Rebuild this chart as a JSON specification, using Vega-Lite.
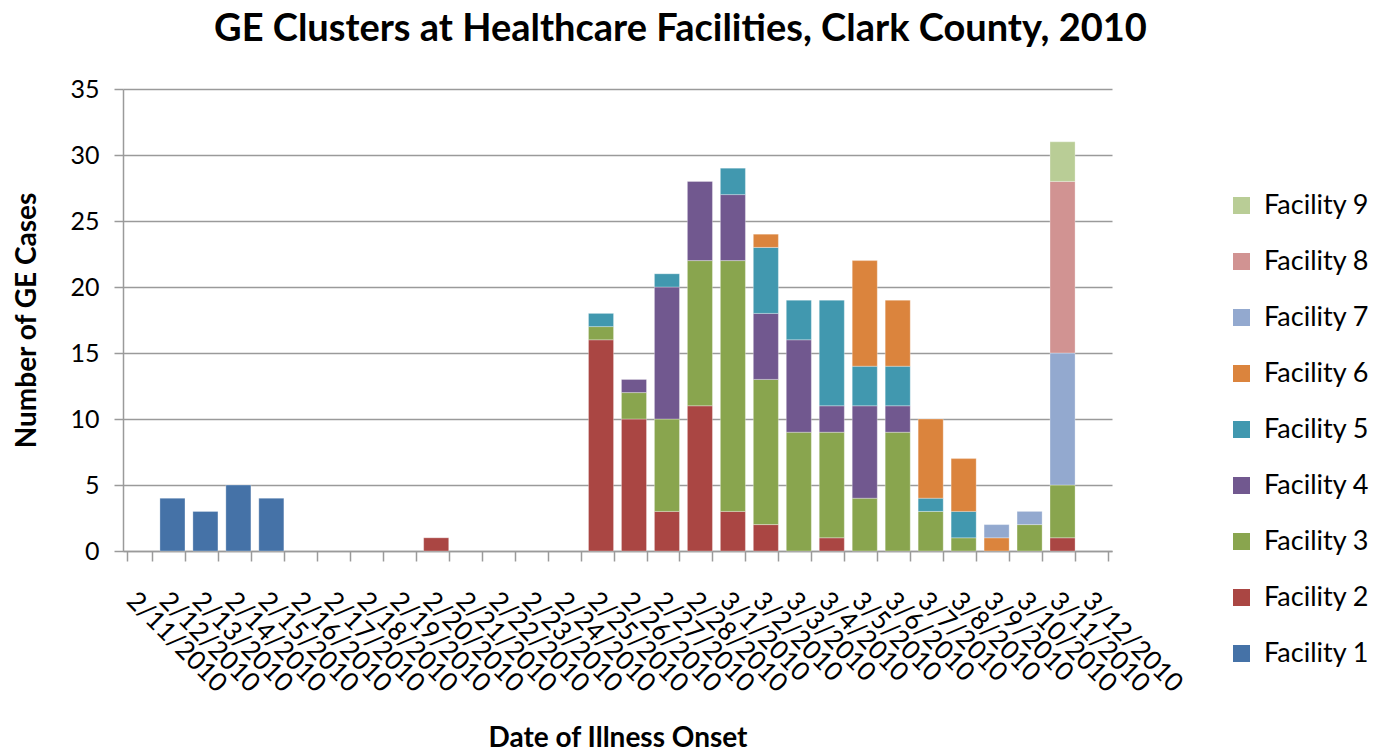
{
  "$schema": "https://vega.github.io/schema/vega-lite/v6.json",
  "width": 989,
  "height": 462,
  "autosize": {"type": "none"},
  "padding": {"left": 123, "top": 89, "right": 272, "bottom": 202},
  "background": "white",
  "config": {"font": "Lato", "view": {"stroke": null}},
  "title": {
    "text": "GE Clusters at Healthcare Facilities, Clark County, 2010",
    "fontSize": 38, "fontWeight": "bold", "font": "Lato", "color": "#000000",
    "anchor": "middle", "dx": 63, "offset": 28
  },
  "data": {"values": [
    {"date": "2/12/2010", "facility": "Facility 1", "n": 1, "cases": 4},
    {"date": "2/13/2010", "facility": "Facility 1", "n": 1, "cases": 3},
    {"date": "2/14/2010", "facility": "Facility 1", "n": 1, "cases": 5},
    {"date": "2/15/2010", "facility": "Facility 1", "n": 1, "cases": 4},
    {"date": "2/20/2010", "facility": "Facility 2", "n": 2, "cases": 1},
    {"date": "2/25/2010", "facility": "Facility 2", "n": 2, "cases": 16},
    {"date": "2/26/2010", "facility": "Facility 2", "n": 2, "cases": 10},
    {"date": "2/27/2010", "facility": "Facility 2", "n": 2, "cases": 3},
    {"date": "2/28/2010", "facility": "Facility 2", "n": 2, "cases": 11},
    {"date": "3/1/2010", "facility": "Facility 2", "n": 2, "cases": 3},
    {"date": "3/2/2010", "facility": "Facility 2", "n": 2, "cases": 2},
    {"date": "3/4/2010", "facility": "Facility 2", "n": 2, "cases": 1},
    {"date": "3/11/2010", "facility": "Facility 2", "n": 2, "cases": 1},
    {"date": "2/25/2010", "facility": "Facility 3", "n": 3, "cases": 1},
    {"date": "2/26/2010", "facility": "Facility 3", "n": 3, "cases": 2},
    {"date": "2/27/2010", "facility": "Facility 3", "n": 3, "cases": 7},
    {"date": "2/28/2010", "facility": "Facility 3", "n": 3, "cases": 11},
    {"date": "3/1/2010", "facility": "Facility 3", "n": 3, "cases": 19},
    {"date": "3/2/2010", "facility": "Facility 3", "n": 3, "cases": 11},
    {"date": "3/3/2010", "facility": "Facility 3", "n": 3, "cases": 9},
    {"date": "3/4/2010", "facility": "Facility 3", "n": 3, "cases": 8},
    {"date": "3/5/2010", "facility": "Facility 3", "n": 3, "cases": 4},
    {"date": "3/6/2010", "facility": "Facility 3", "n": 3, "cases": 9},
    {"date": "3/7/2010", "facility": "Facility 3", "n": 3, "cases": 3},
    {"date": "3/8/2010", "facility": "Facility 3", "n": 3, "cases": 1},
    {"date": "3/10/2010", "facility": "Facility 3", "n": 3, "cases": 2},
    {"date": "3/11/2010", "facility": "Facility 3", "n": 3, "cases": 4},
    {"date": "2/26/2010", "facility": "Facility 4", "n": 4, "cases": 1},
    {"date": "2/27/2010", "facility": "Facility 4", "n": 4, "cases": 10},
    {"date": "2/28/2010", "facility": "Facility 4", "n": 4, "cases": 6},
    {"date": "3/1/2010", "facility": "Facility 4", "n": 4, "cases": 5},
    {"date": "3/2/2010", "facility": "Facility 4", "n": 4, "cases": 5},
    {"date": "3/3/2010", "facility": "Facility 4", "n": 4, "cases": 7},
    {"date": "3/4/2010", "facility": "Facility 4", "n": 4, "cases": 2},
    {"date": "3/5/2010", "facility": "Facility 4", "n": 4, "cases": 7},
    {"date": "3/6/2010", "facility": "Facility 4", "n": 4, "cases": 2},
    {"date": "2/25/2010", "facility": "Facility 5", "n": 5, "cases": 1},
    {"date": "2/27/2010", "facility": "Facility 5", "n": 5, "cases": 1},
    {"date": "3/1/2010", "facility": "Facility 5", "n": 5, "cases": 2},
    {"date": "3/2/2010", "facility": "Facility 5", "n": 5, "cases": 5},
    {"date": "3/3/2010", "facility": "Facility 5", "n": 5, "cases": 3},
    {"date": "3/4/2010", "facility": "Facility 5", "n": 5, "cases": 8},
    {"date": "3/5/2010", "facility": "Facility 5", "n": 5, "cases": 3},
    {"date": "3/6/2010", "facility": "Facility 5", "n": 5, "cases": 3},
    {"date": "3/7/2010", "facility": "Facility 5", "n": 5, "cases": 1},
    {"date": "3/8/2010", "facility": "Facility 5", "n": 5, "cases": 2},
    {"date": "3/2/2010", "facility": "Facility 6", "n": 6, "cases": 1},
    {"date": "3/5/2010", "facility": "Facility 6", "n": 6, "cases": 8},
    {"date": "3/6/2010", "facility": "Facility 6", "n": 6, "cases": 5},
    {"date": "3/7/2010", "facility": "Facility 6", "n": 6, "cases": 6},
    {"date": "3/8/2010", "facility": "Facility 6", "n": 6, "cases": 4},
    {"date": "3/9/2010", "facility": "Facility 6", "n": 6, "cases": 1},
    {"date": "3/9/2010", "facility": "Facility 7", "n": 7, "cases": 1},
    {"date": "3/10/2010", "facility": "Facility 7", "n": 7, "cases": 1},
    {"date": "3/11/2010", "facility": "Facility 7", "n": 7, "cases": 10},
    {"date": "3/11/2010", "facility": "Facility 8", "n": 8, "cases": 13},
    {"date": "3/11/2010", "facility": "Facility 9", "n": 9, "cases": 3}
  ]},
  "mark": {"type": "bar", "stroke": "#ffffff", "strokeWidth": 0.5, "strokeOpacity": 0.6},
  "encoding": {
    "x": {
      "field": "date", "type": "ordinal", "sort": null,
      "scale": {
        "domain": ["2/11/2010","2/12/2010","2/13/2010","2/14/2010","2/15/2010","2/16/2010","2/17/2010","2/18/2010","2/19/2010","2/20/2010","2/21/2010","2/22/2010","2/23/2010","2/24/2010","2/25/2010","2/26/2010","2/27/2010","2/28/2010","3/1/2010","3/2/2010","3/3/2010","3/4/2010","3/5/2010","3/6/2010","3/7/2010","3/8/2010","3/9/2010","3/10/2010","3/11/2010","3/12/2010"],
        "paddingInner": 0.24, "paddingOuter": 0.12
      },
      "axis": {
        "title": "Date of Illness Onset",
        "labelAngle": 45, "labelAlign": "left", "labelBaseline": "top",
        "labelFontSize": 26, "labelColor": "#000000", "labelOverlap": false,
        "labelPadding": 26,
        "tickBand": "extent", "tickSize": 10, "tickColor": "#9a9a9a", "tickWidth": 1.5,
        "domainColor": "#9a9a9a", "domainWidth": 1.5,
        "titleFontSize": 28, "titleFontWeight": "bold", "titleColor": "#000000",
        "titleY": 195, "titleBaseline": "alphabetic",
        "grid": false
      }
    },
    "y": {
      "field": "cases", "type": "quantitative", "stack": "zero",
      "scale": {"domain": [0, 35], "nice": false},
      "axis": {
        "title": "Number of GE Cases",
        "values": [0, 5, 10, 15, 20, 25, 30, 35],
        "grid": true, "gridColor": "#9a9a9a", "gridWidth": 1.5,
        "domainColor": "#9a9a9a", "domainWidth": 1.5,
        "tickColor": "#9a9a9a", "tickWidth": 1.5, "tickSize": 9,
        "labelPadding": 15, "labelFontSize": 25, "labelColor": "#000000",
        "titleFontSize": 28, "titleFontWeight": "bold", "titleColor": "#000000",
        "titleX": -88, "titleBaseline": "alphabetic"
      }
    },
    "color": {
      "field": "facility", "type": "nominal",
      "scale": {
        "domain": ["Facility 9","Facility 8","Facility 7","Facility 6","Facility 5","Facility 4","Facility 3","Facility 2","Facility 1"],
        "range": ["#B9CD96","#D19392","#93A9CF","#DB843D","#4198AF","#71588F","#89A54E","#AA4643","#4572A7"]
      },
      "legend": {
        "orient": "none", "legendX": 1105, "legendY": 103, "title": null,
        "symbolType": "square", "symbolSize": 289, "symbolStrokeWidth": 0,
        "labelFontSize": 27, "labelColor": "#000000", "rowPadding": 28, "labelOffset": 9
      }
    },
    "order": {"field": "n", "type": "quantitative", "sort": "ascending"}
  }
}
